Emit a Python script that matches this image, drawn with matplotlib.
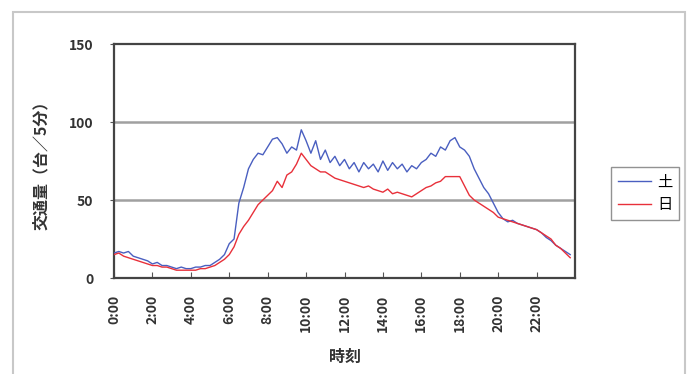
import matplotlib
matplotlib.use("Agg")
import matplotlib.pyplot as plt
from matplotlib.patches import Rectangle
import numpy as np

plt.rcParams['font.family'] = ['Noto Sans CJK JP', 'DejaVu Sans']

# 15-minute samples (hours from 0:00)
sat = [16, 17, 16, 17,
       14, 13, 12, 11,
       9, 10, 8, 8,
       7, 6, 7, 6,
       6, 7, 7, 8,
       8, 10, 12, 15,
       22, 25, 48, 58,
       70, 76, 80, 79,
       84, 89, 90, 86,
       80, 84, 82, 95,
       88, 80, 88, 76,
       82, 74, 78, 72,
       76, 70, 74, 68,
       74, 70, 73, 68,
       75, 69, 74, 70,
       73, 68, 72, 70,
       74, 76, 80, 78,
       84, 82, 88, 90,
       84, 82, 78, 70,
       64, 58, 54, 48,
       42, 38, 36, 37,
       35, 34, 33, 32,
       31, 29, 26, 24,
       21, 19, 17, 15]
sun = [15, 16, 14, 13,
       12, 11, 10, 9,
       8, 8, 7, 7,
       6, 5, 5, 5,
       5, 5, 6, 6,
       7, 8, 10, 12,
       15, 20, 28, 33,
       37, 42, 47, 50,
       53, 56, 62, 58,
       66, 68, 73, 80,
       76, 72, 70, 68,
       68, 66, 64, 63,
       62, 61, 60, 59,
       58, 59, 57, 56,
       55, 57, 54, 55,
       54, 53, 52, 54,
       56, 58, 59, 61,
       62, 65, 65, 65,
       65, 59, 53, 50,
       48, 46, 44, 42,
       39, 38, 37, 36,
       35, 34, 33, 32,
       31, 29, 27, 25,
       21, 19, 16, 13]
tick_labels = ['0:00', '2:00', '4:00', '6:00', '8:00', '10:00', '12:00',
               '14:00', '16:00', '18:00', '20:00', '22:00']
series_names = ['土', '日']

hours = np.arange(len(sat)) * 0.25

fig = plt.figure(figsize=(6.96, 3.74), dpi=100)
fig.patches.append(Rectangle((13/696, -0.1), 672/696, (374-12)/374 + 0.1,
                             transform=fig.transFigure, fill=False,
                             edgecolor='#c8c8c8', lw=1.5))
ax = fig.add_axes([114/696, (374-278)/374, 461/696, 234/374])

ax.axhline(50, color='#a0a0a0', lw=1.8, zorder=1)
ax.axhline(100, color='#a0a0a0', lw=1.8, zorder=1)
l1, = ax.plot(hours, sat, color='#4a5fc0', lw=1.0, zorder=3)
l2, = ax.plot(hours, sun, color='#e8303a', lw=1.0, zorder=4)

ax.set_xlim(0, 24)
ax.set_ylim(0, 150)
ax.set_yticks([0, 50, 100, 150])
ax.set_xticks(np.arange(0, 24, 2))
ax.set_xticklabels(tick_labels, rotation=90, fontsize=10, fontweight='bold',
                   color='#333333')
ax.tick_params(axis='x', direction='in', length=4, pad=12, color='#555555')
ax.tick_params(axis='y', direction='out', length=3, labelsize=10,
               color='#555555', labelcolor='#333333', pad=12)
for lab in ax.get_yticklabels():
    lab.set_fontweight('bold')
for s in ax.spines.values():
    s.set_color('#444444')
    s.set_linewidth(1.6)

ax.set_ylabel('交通量（台／5分）', fontsize=11.5, fontweight='bold',
              color='#333333', labelpad=14)
ax.set_xlabel('時刻', fontsize=11.5, fontweight='bold', color='#333333',
              labelpad=12)

leg = fig.legend([l1, l2], series_names, loc='center left',
                 bbox_to_anchor=(603/696, (374-193.5)/374), fontsize=11,
                 frameon=True, fancybox=False, handlelength=2.2,
                 handletextpad=0.4, borderpad=0.45, labelspacing=0.35,
                 edgecolor='#777777')
leg.get_frame().set_linewidth(1.0)

fig.savefig('out.png', dpi=100)
